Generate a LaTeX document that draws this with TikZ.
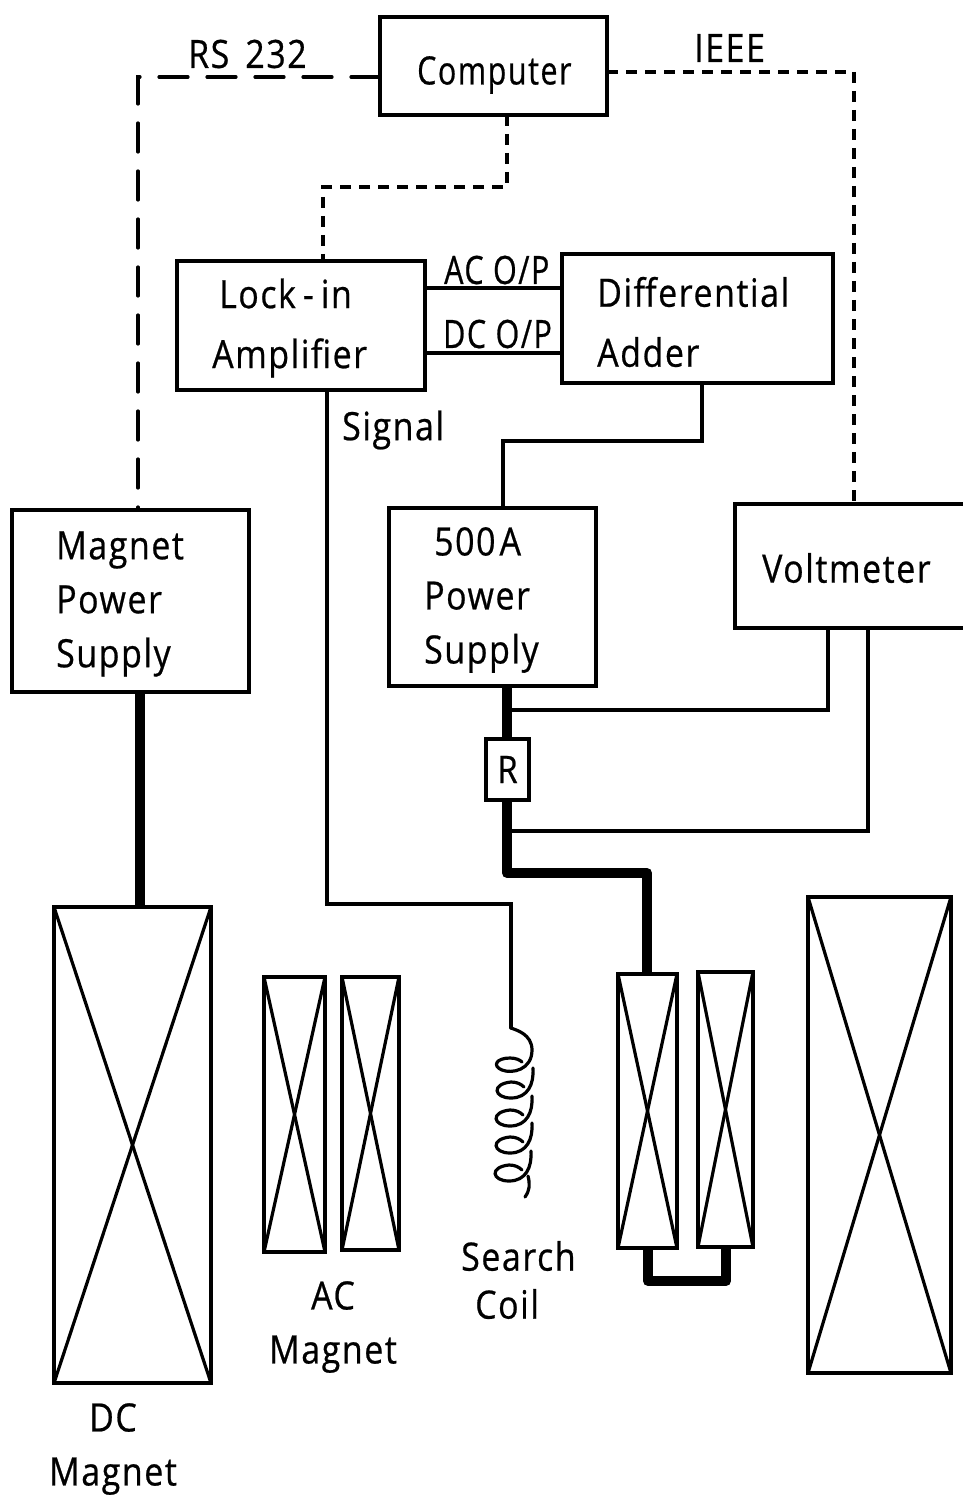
\documentclass[tikz,border=0pt]{standalone}
\usepackage{fontspec}
\setmainfont[FakeStretch=0.87,LetterSpace=4,FakeBold=0.6]{Open Sans}
\newfontfamily\tightfont[FakeStretch=0.78,LetterSpace=4,FakeBold=0.6]{Open Sans}
\usetikzlibrary{positioning}
\tikzset{
    box/.style={
        draw,
        line width=3.2pt,
        fill=white,
        inner sep=0pt,
        outer sep=0pt
    },
    magnet/.style={
        box,
        minimum width=#1
    },
    wire/.style={
        line width=3.2pt,
        line cap=round
    },
    heavywire/.style={
        line width=10pt,
        line join=round
    },
    longdash/.style={
        wire,
        dash pattern=on 29pt off 19pt
    },
    shortdash/.style={
        line width=3.2pt,
        dash pattern=on 11pt off 8pt
    },
    boxlabel/.style={
        font=\fontsize{39}{54}\selectfont,
        align=left,
        anchor=west,
        inner sep=0pt
    },
    widelabel/.style={
        boxlabel,
        font=\fontsize{39}{60}\selectfont
    },
    tightlabel/.style={
        boxlabel,
        font=\tightfont\fontsize{39}{54}\selectfont
    }
}

\begin{document}
\begin{tikzpicture}[x=1pt,y=-1pt]

    \useasboundingbox (0,0) rectangle (962,1495);

    % Boxes
    \node[box,minimum width=227pt,minimum height=98pt] (computer) at (493.5,66) {};
    \node[box,minimum width=248pt,minimum height=129pt] (lockin) at (301,325.5) {};
    \node[box,minimum width=271pt,minimum height=129pt] (adder) at (697.5,318.5) {};
    \node[box,minimum width=237pt,minimum height=182pt] (mps) at (130.5,601) {};
    \node[box,minimum width=207pt,minimum height=178pt] (psu) at (492.5,597) {};
    \node[box,minimum width=240pt,minimum height=124pt] (voltmeter) at (855,566) {};

    % Magnets
    \node[magnet=157pt,minimum height=476pt] (dcleft) at (132.5,1145) {};
    \node[magnet=61pt,minimum height=275pt] (acleft) at (294.5,1114.5) {};
    \node[magnet=57pt,minimum height=273pt] (acright) at (370.5,1113.5) {};
    \node[magnet=59pt,minimum height=274pt] (trimleft) at (647.5,1111) {};
    \node[magnet=55pt,minimum height=275pt] (trimright) at (725.5,1109.5) {};
    \node[magnet=143pt,minimum height=476pt] (dcright) at (879.5,1135) {};

    \foreach \m in {dcleft,acleft,acright,trimleft,trimright,dcright} {
        \draw[wire] (\m.north west) -- (\m.south east);
        \draw[wire] (\m.north east) -- (\m.south west);
    }

    % Bends
    \coordinate (rscorner) at (138,77);
    \coordinate (ieeecorner) at (854,72);
    \coordinate (lockbend) at (323,187);
    \coordinate (cmpbend) at (507,187);
    \coordinate (acline) at (425,288);
    \coordinate (dcline) at (425,353);
    \coordinate (addbend) at (702,441);
    \coordinate (psubend) at (503,441);
    \coordinate (sigbend) at (327,904);
    \coordinate (coiltop) at (511,1028);
    \coordinate (mpsfeed) at (140,800);
    \coordinate (feedbend) at (507,873);
    \coordinate (trimbend) at (647,873);
    \coordinate (vleft) at (828,710);
    \coordinate (vright) at (868,831);
    \coordinate (linkleft) at (648,1281);
    \coordinate (linkright) at (726,1281);

    % Data lines
    \draw[longdash] (computer.west |- rscorner) -- (rscorner) -- (rscorner |- mps.north);
    \draw[shortdash] (computer.east |- ieeecorner) -- (ieeecorner) -- (ieeecorner |- voltmeter.north);
    \draw[shortdash] (cmpbend |- computer.south) -- (cmpbend) -- (lockbend) -- (lockbend |- lockin.north);

    % Signal lines
    \draw[wire] (acline) -- (acline -| adder.west);
    \draw[wire] (dcline) -- (dcline -| adder.west);
    \draw[wire] (addbend |- adder.south) -- (addbend) -- (psubend) -- (psubend |- psu.north);
    \draw[wire] (sigbend |- lockin.south) -- (sigbend) -- (sigbend -| coiltop) -- (coiltop);

    % Heavy current
    \draw[heavywire] (mpsfeed |- mps.south) -- (mpsfeed |- dcleft.north);
    \draw[heavywire] (feedbend |- psu.south) -- (feedbend) -- (trimbend) -- (trimbend |- trimleft.north);
    \draw[heavywire] (linkleft |- trimleft.south) -- (linkleft) -- (linkright) -- (linkright |- trimright.south);

    % Voltmeter taps
    \draw[wire] (vleft |- voltmeter.south) -- (vleft) -- (vleft -| feedbend);
    \draw[wire] (vright |- voltmeter.south) -- (vright) -- (vright -| feedbend);

    % Resistor
    \node[box,minimum width=43pt,minimum height=61pt,font=\fontsize{38}{40}\selectfont] (shunt) at (507.5,769.5) {R};

    % Search coil
    \draw[wire] (coiltop) .. controls (516,1030) and (532,1034) .. (532,1050) .. controls (532,1070) and (512,1074) .. (502,1070)
        .. controls (492,1066) and (496,1058) .. (510,1058) .. controls (516,1058) and (520,1060) .. (522,1062);
    \foreach \y/\x in {0/1,28/0,55/0,83/-1} {
        \draw[wire,shift={(\x,\y)}] (532,1068) .. controls (533,1084) and (527,1098) .. (510,1098)
            .. controls (493,1098) and (490,1084) .. (510,1082) .. controls (516,1082) and (520,1084) .. (523,1087);
    }
    \draw[wire] (528,1176) .. controls (530,1184) and (530,1190) .. (525,1197);

    % Labels
    \node[tightlabel] (computerlabel) at (417,75) {Computer};
    \node[widelabel] (lockinlabel) at (212,328) {\hspace{7pt}Lock\hspace{7pt}-\hspace{7pt}in\\Amplifier};
    \node[widelabel] (adderlabel) at (597,322) {Differential\\Adder};
    \node[boxlabel] (mpslabel) at (56,604) {Magnet\\Power\\Supply};
    \node[boxlabel] (psulabel) at (424,600) {\hspace{10pt}500\hspace{4pt}A\\Power\\Supply};
    \node[boxlabel] (voltmeterlabel) at (762,568) {Voltmeter};
    \node[boxlabel] (rslabel) at (188,54) {RS\hspace{16pt}232};
    \node[boxlabel] (ieeelabel) at (694,48) {IEEE};
    \node[tightlabel] (aclabel) at (444,270) {AC O/P};
    \node[tightlabel] (dclabel) at (443,334) {DC O/P};
    \node[boxlabel] (signallabel) at (342,430) {Signal};
    \node[boxlabel,align=center,anchor=center] (acmagnetlabel) at (333,1327) {AC\\Magnet};
    \node[boxlabel,font=\fontsize{39}{48}\selectfont] (searchlabel) at (461,1280) {Search\\\hspace{14pt}Coil};
    \node[boxlabel,align=center,anchor=center] (dcmagnetlabel) at (113,1449) {DC\\Magnet};

\end{tikzpicture}
\end{document}
